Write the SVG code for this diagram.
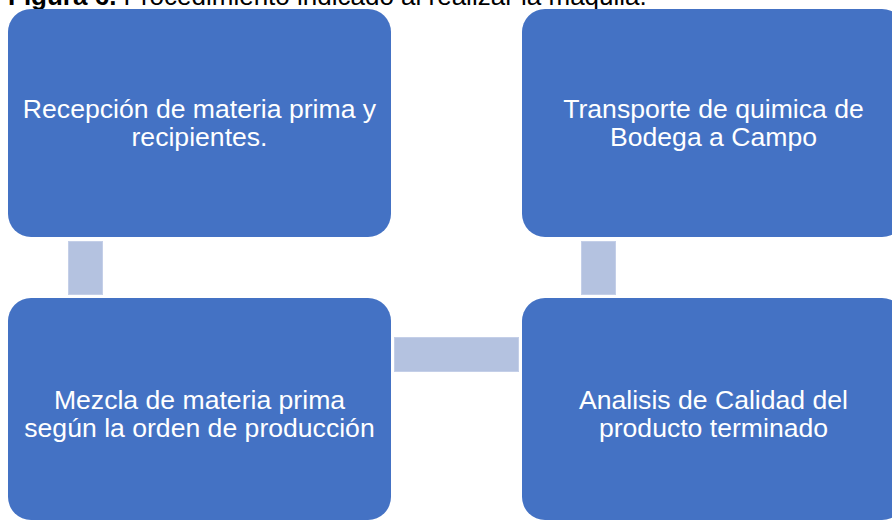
<svg xmlns="http://www.w3.org/2000/svg" width="892" height="522" viewBox="0 0 892 522">
<style>
.box{fill:#4472c4;}
.lbl{font-family:"Liberation Sans",Arial,sans-serif;font-size:26.6px;fill:#ffffff;text-anchor:middle;}
.conn{fill:#b4c2e0;stroke:#c4cfe8;stroke-width:1;}
.cap{font-family:"Liberation Sans",Arial,sans-serif;font-size:26px;fill:#000000;}
</style>
<rect width="892" height="522" fill="#ffffff"/>
<text class="cap" x="8" y="5"><tspan font-weight="bold">Figura 6.</tspan> Procedimiento indicado al realizar la maquila.</text>
<g id="connectors">
<rect class="conn" x="68.5" y="241.5" width="34" height="53"/>
<rect class="conn" x="581.5" y="241.5" width="34" height="53"/>
<rect class="conn" x="394.5" y="337.5" width="124" height="34"/>
</g>
<g id="node1">
<rect class="box" x="8" y="9" width="383" height="228" rx="23"/>
<text class="lbl" x="199.5" y="118">Recepción de materia prima y</text>
<text class="lbl" x="199.5" y="146">recipientes.</text>
</g>
<g id="node2">
<rect class="box" x="522" y="9" width="383" height="228" rx="23"/>
<text class="lbl" x="713.5" y="118">Transporte de quimica de</text>
<text class="lbl" x="713.5" y="146">Bodega a Campo</text>
</g>
<g id="node3">
<rect class="box" x="8" y="298" width="383" height="222" rx="23"/>
<text class="lbl" x="199.5" y="409">Mezcla de materia prima</text>
<text class="lbl" x="199.5" y="437">según la orden de producción</text>
</g>
<g id="node4">
<rect class="box" x="522" y="298" width="383" height="222" rx="23"/>
<text class="lbl" x="713.5" y="409">Analisis de Calidad del</text>
<text class="lbl" x="713.5" y="437">producto terminado</text>
</g>
</svg>
